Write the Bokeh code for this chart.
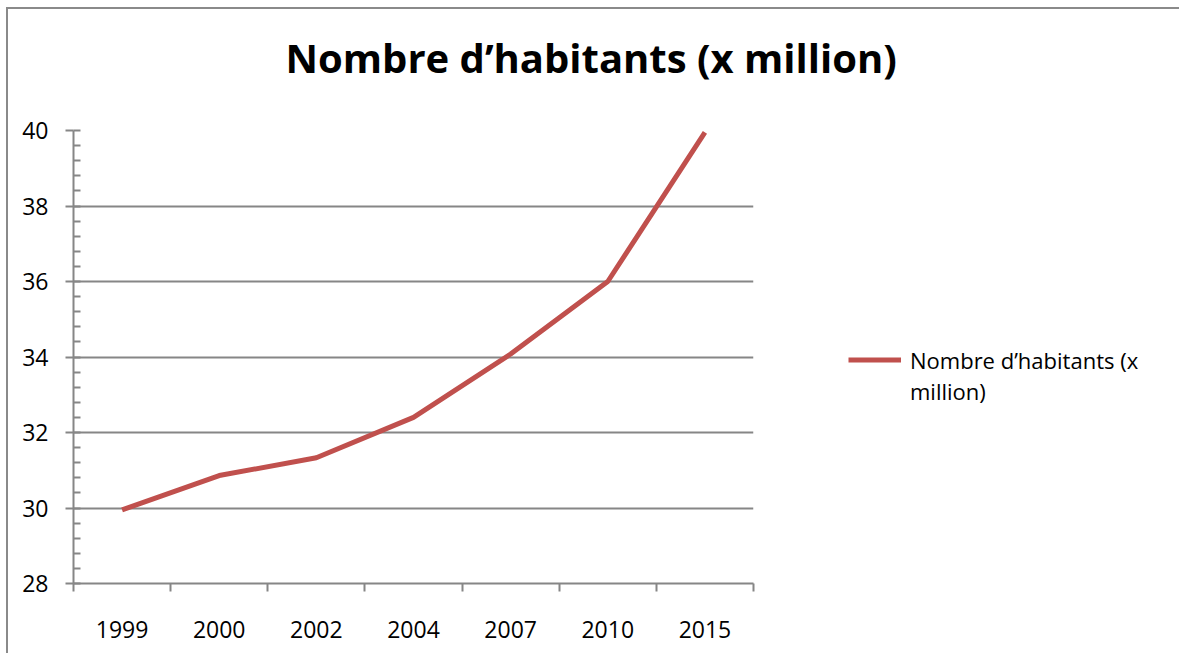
from bokeh.plotting import figure
from bokeh.models import Range1d, FixedTicker, SingleIntervalTicker, Legend, LegendItem, Title
from bokeh.embed import file_html
from bokeh.resources import INLINE

# ---- data ----
categories = ["1999", "2000", "2002", "2004", "2007", "2010", "2015"]
habitants = [29.95, 30.86, 31.33, 32.4, 34.08, 36.0, 39.95]
y_ticks_interval = 2
title_text = "Nombre d\u2019habitants (x million)"
legend_line1 = "Nombre d\u2019habitants (x"
legend_line2 = "million)"

n = len(categories)
xs = [i + 0.5 for i in range(n)]

GRAY = "#868686"
FONT = "Open Sans"

p = figure(width=1168, height=644, output_backend="svg", toolbar_location=None,
           x_range=Range1d(0, n), y_range=Range1d(28, 40), title=None,
           frame_width=680, frame_height=453,
           min_border_left=65, min_border_right=423, min_border_top=121, min_border_bottom=70,
           tools="")
p.styles = {"border-top": "2px solid #8a8a8a", "border-left": "2px solid #8a8a8a",
            "border-right": "2px solid #8a8a8a", "margin-left": "6px", "margin-top": "7px"}

# spacer between the title and the plot area
spacer = Title(text=" ", text_font_size="1px", standoff=37)
p.add_layout(spacer, "above")

main_title = Title(text=title_text, text_font=FONT, text_font_size="40px",
                   text_font_style="bold", text_color="black",
                   align="left", offset=212, standoff=12)
p.add_layout(main_title, "above")

p.outline_line_color = None
p.background_fill_color = "white"
p.border_fill_color = "white"

# x axis: labels at category centers, ticks at boundaries
xa = p.xaxis[0]
xa.ticker = FixedTicker(ticks=xs, minor_ticks=list(range(n + 1)))
xa.major_label_overrides = {x: c for x, c in zip(xs, categories)}
xa.major_tick_out = 0
xa.major_tick_in = 0
xa.minor_tick_out = 8
xa.minor_tick_in = 0
xa.minor_tick_line_color = GRAY
xa.minor_tick_line_width = 2
xa.axis_line_color = GRAY
xa.axis_line_width = 2
xa.major_label_text_font = FONT
xa.major_label_text_font_size = "23px"
xa.major_label_text_color = "black"
xa.major_label_standoff = 29

ya = p.yaxis[0]
ya.ticker = SingleIntervalTicker(interval=y_ticks_interval, num_minor_ticks=5)
ya.major_tick_out = 8
ya.major_tick_in = 0
ya.minor_tick_out = 0
ya.minor_tick_in = 7
ya.major_tick_line_color = GRAY
ya.major_tick_line_width = 2
ya.minor_tick_line_color = GRAY
ya.minor_tick_line_width = 2
ya.axis_line_color = GRAY
ya.axis_line_width = 2
ya.major_label_text_font = FONT
ya.major_label_text_font_size = "23px"
ya.major_label_text_color = "black"
ya.major_label_standoff = 17

p.xgrid.visible = False
p.ygrid.ticker = SingleIntervalTicker(interval=y_ticks_interval)
p.ygrid.grid_line_color = GRAY
p.ygrid.grid_line_width = 2

r = p.line(xs, habitants, line_color="#C0504D", line_width=5)
r_blank = p.line(xs, habitants, line_alpha=0)

legend = Legend(items=[LegendItem(label=legend_line1, renderers=[r]),
                       LegendItem(label=legend_line2, renderers=[r_blank])],
                location=(95, 177))
legend.border_line_color = None
legend.background_fill_alpha = 0
legend.padding = 0
legend.margin = 0
legend.spacing = 0
legend.glyph_width = 53
legend.glyph_height = 31
legend.label_height = 31
legend.label_standoff = 9
legend.label_text_font = FONT
legend.label_text_font_size = "22px"
legend.label_text_color = "black"
p.add_layout(legend, "right")

open("out.html", "w").write(file_html(p, INLINE))
